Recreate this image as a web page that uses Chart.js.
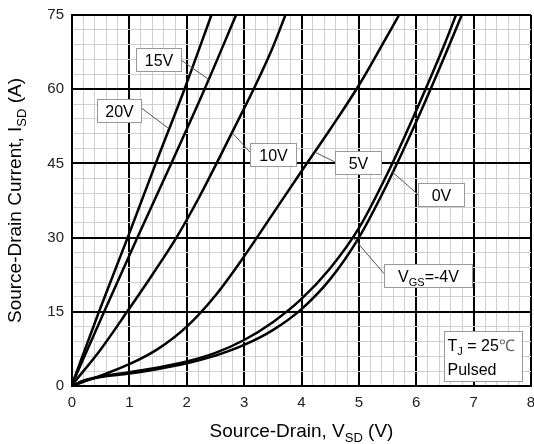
<!DOCTYPE html>
<html><head><meta charset="utf-8">
<script src="https://cdn.jsdelivr.net/npm/chart.js@4.4.0/dist/chart.umd.min.js"></script>
<style>html,body{margin:0;padding:0;background:#fff;}#wrap{width:534px;height:444px;}</style>
</head><body><div id="wrap"><canvas id="c" width="534" height="444"></canvas></div>
<script>
// ---- data ----
const xTickLabels = ['0','1','2','3','4','5','6','7','8'];
const yTickLabels = ['0','15','30','45','60','75'];
const seriesNames = ['20V','15V','10V','5V','0V','-4V'];

const vsd20 = [0, 0.47, 0.97, 1.46, 1.96, 2.43];
const isd20 = [0.3, 15, 30, 45, 60, 75];

const vsd15 = [0, 0.56, 1.14, 1.73, 2.31, 2.86];
const isd15 = [0.3, 15, 30, 45, 60, 75];

const vsd10 = [0, 0.5, 0.96, 1.4, 1.82, 2.2, 2.52, 2.9, 3.19, 3.5, 3.72];
const isd10 = [0.2, 7.4, 15, 22.5, 30, 37.8, 45, 53.8, 60.6, 68.5, 75];

const vsd5 = [0, 0.5, 1, 1.5, 2, 2.5, 3, 3.5, 4, 4.5, 5, 5.5, 5.7];
const isd5 = [0, 2.1, 4.4, 7.5, 12, 18.3, 26.2, 34.8, 43.4, 51.9, 60.8, 70.9, 75];

const vsd0 = [0, 0.2, 0.5, 1, 1.5, 2, 2.5, 3, 3.5, 4, 4.5, 5, 5.5, 6, 6.5, 6.8];
const isd0 = [0, 1.0, 1.8, 2.5, 3.45, 4.6, 6.15, 8.3, 11.3, 15.55, 21.6, 30, 41.0, 53.4, 66.8, 75.2];

const vsdM4 = [0, 0.2, 0.5, 1, 1.5, 2, 2.5, 3, 3.5, 4, 4.5, 5, 5.5, 6, 6.5, 6.72];
const isdM4 = [0, 1.1, 1.9, 2.8, 3.75, 4.95, 6.7, 9.3, 12.9, 17.6, 23.8, 31.9, 43.0, 55.7, 69.3, 75.8];

// ---- presentation ----
const FONT = "'Liberation Sans', Arial, Helvetica, sans-serif";
const seriesX = [vsd20, vsd15, vsd10, vsd5, vsd0, vsdM4];
const seriesY = [isd20, isd15, isd10, isd5, isd0, isdM4];

function pts(xs, ys){ return xs.map((x,i)=>({x:x, y:ys[i]})); }

// callouts: box corners and pointer in data units
const callouts = [
  {parts:[{t:seriesNames[1]}], box:[1.115,68.3,1.899,63.6], from:[2.38,62.0], to:[1.899,65.9]},
  {parts:[{t:seriesNames[0]}], box:[0.43,58.1,1.21,53.4], from:[1.68,52.1], to:[1.21,56.2]},
  {parts:[{t:seriesNames[2]}], box:[3.10,49.1,3.90,44.4], from:[2.80,51.1], to:[3.10,47.3]},
  {parts:[{t:seriesNames[3]}], box:[4.58,47.5,5.38,42.8], from:[4.23,47.3], to:[4.58,45.3]},
  {parts:[{t:seriesNames[4]}], box:[6.03,41.1,6.83,36.4], from:[5.58,43.3], to:[6.03,38.7]},
  {parts:[{t:'V'},{t:'GS',sub:true},{t:'='+seriesNames[5]}], box:[5.44,24.7,6.97,20.0], from:[4.90,30.0], to:[5.44,22.7]}
];

function isMul(v, m){ const r = v/m; return Math.abs(r - Math.round(r)) < 1e-6; }

function richWidth(ctx, parts, size){
  let w = 0;
  parts.forEach(p=>{ ctx.font = (p.sub? Math.round(size*0.7): size) + 'px ' + FONT; w += ctx.measureText(p.t).width; });
  return w;
}
function drawRich(ctx, parts, x, y, size, align){
  const w = richWidth(ctx, parts, size);
  let cx = align === 'center' ? x - w/2 : x;
  ctx.textAlign = 'left';
  ctx.textBaseline = 'alphabetic';
  parts.forEach(p=>{
    const s = p.sub? Math.round(size*0.7): size;
    ctx.font = s + 'px ' + FONT;
    ctx.fillStyle = p.color || '#000';
    ctx.fillText(p.t, cx, p.sub ? y + size*0.25 : y);
    cx += ctx.measureText(p.t).width;
  });
}

const decor = {
  id: 'decor',
  afterDatasetsDraw(chart){
    const ctx = chart.ctx, xs = chart.scales.x, ys = chart.scales.y, a = chart.chartArea;
    ctx.save();
    callouts.forEach(c=>{
      ctx.strokeStyle = '#555'; ctx.lineWidth = 1;
      ctx.beginPath();
      ctx.moveTo(xs.getPixelForValue(c.from[0]), ys.getPixelForValue(c.from[1]));
      ctx.lineTo(xs.getPixelForValue(c.to[0]), ys.getPixelForValue(c.to[1]));
      ctx.stroke();
    });
    callouts.forEach(c=>{
      const x1 = Math.round(xs.getPixelForValue(c.box[0]))+0.5, y1 = Math.round(ys.getPixelForValue(c.box[1]))+0.5;
      const x2 = Math.round(xs.getPixelForValue(c.box[2]))+0.5, y2 = Math.round(ys.getPixelForValue(c.box[3]))+0.5;
      ctx.fillStyle = '#fff'; ctx.fillRect(x1, y1, x2-x1, y2-y1);
      ctx.strokeStyle = '#999'; ctx.lineWidth = 1; ctx.strokeRect(x1, y1, x2-x1, y2-y1);
      drawRich(ctx, c.parts, (x1+x2)/2, (y1+y2)/2 + 6, 16, 'center');
    });
    {
      const x1 = Math.round(xs.getPixelForValue(6.48))+0.5, y1 = Math.round(ys.getPixelForValue(11.05))+0.5;
      const x2 = Math.round(xs.getPixelForValue(7.85))+0.5, y2 = Math.round(ys.getPixelForValue(0.95))+0.5;
      ctx.fillStyle = '#fff'; ctx.fillRect(x1, y1, x2-x1, y2-y1);
      ctx.strokeStyle = '#999'; ctx.lineWidth = 1; ctx.strokeRect(x1, y1, x2-x1, y2-y1);
      drawRich(ctx, [{t:'T'},{t:'J',sub:true},{t:' = 25'},{t:'\u2103', color:'#666'}], x1+3, y1+19, 16, 'left');
      drawRich(ctx, [{t:'Pulsed'}], x1+3, y1+43, 16, 'left');
    }
    drawRich(ctx, [{t:'Source-Drain, V'},{t:'SD',sub:true},{t:' (V)'}], (a.left+a.right)/2, 437, 19, 'center');
    ctx.translate(21, (a.top+a.bottom)/2);
    ctx.rotate(-Math.PI/2);
    drawRich(ctx, [{t:'Source-Drain Current, I'},{t:'SD',sub:true},{t:' (A)'}], 0, 0, 19, 'center');
    ctx.restore();
  }
};

const gridColor = (ctx, m) => {
  const v = ctx.tick ? ctx.tick.value : 0;
  return isMul(v, m) ? '#000' : '#cfcfcf';
};

new Chart(document.getElementById('c'), {
  type: 'line',
  data: {
    datasets: seriesNames.map((n,i)=>({
      label: n,
      data: pts(seriesX[i], seriesY[i]),
      borderColor: '#000',
      borderWidth: 2.5,
      pointRadius: 0,
      fill: false,
      cubicInterpolationMode: 'monotone'
    }))
  },
  options: {
    responsive: false,
    animation: false,
    devicePixelRatio: 1,
    layout: { padding: { top: 15, right: 3, left: 0, bottom: 0 } },
    plugins: { legend: { display: false }, tooltip: { enabled: false } },
    scales: {
      x: {
        type: 'linear', min: 0, max: 8,
        afterFit: s => { s.height = 58; s.paddingLeft = 0; s.paddingRight = 0; },
        ticks: {
          stepSize: 0.2, autoSkip: false, maxTicksLimit: 1000, maxRotation: 0, minRotation: 0,
          padding: 8, color: '#222', font: { family: FONT, size: 15 },
          callback: v => isMul(v, 1) ? xTickLabels[Math.round(v)] : ''
        },
        grid: {
          drawTicks: false,
          color: c => gridColor(c, 1),
          lineWidth: c => (c.tick && isMul(c.tick.value, 1)) ? 2 : 1
        },
        border: { display: true, color: '#000', width: 2 }
      },
      y: {
        type: 'linear', min: 0, max: 75,
        afterFit: s => { s.width = 72; s.paddingTop = 0; s.paddingBottom = 0; },
        ticks: {
          stepSize: 3, autoSkip: false, maxTicksLimit: 1000,
          padding: 8, color: '#222', font: { family: FONT, size: 15 },
          callback: v => isMul(v, 15) ? yTickLabels[Math.round(v/15)] : ''
        },
        grid: {
          drawTicks: false,
          color: c => gridColor(c, 15),
          lineWidth: c => (c.tick && isMul(c.tick.value, 15)) ? 2 : 1
        },
        border: { display: true, color: '#000', width: 2 }
      }
    }
  },
  plugins: [decor]
});
</script></body></html>
